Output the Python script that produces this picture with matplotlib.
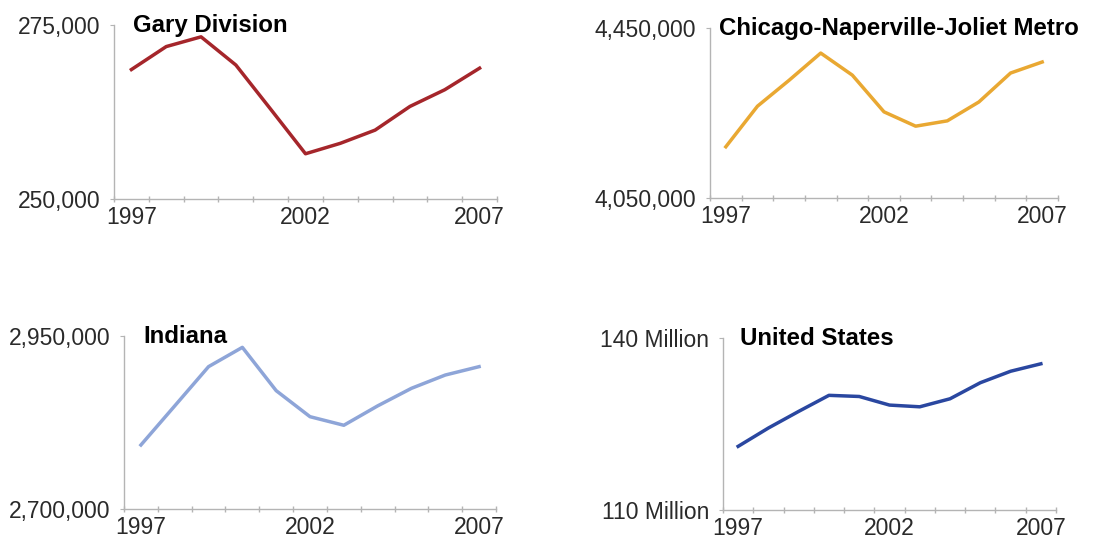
import matplotlib
matplotlib.use('Agg')
import matplotlib.pyplot as plt
from matplotlib.ticker import FixedLocator, FixedFormatter
import matplotlib.transforms as mtransforms

plt.rcParams['font.family'] = ['Liberation Sans', 'DejaVu Sans']

# Data
years = list(range(1997, 2008))
year_labels = ['1997', '2002', '2007']

gary = [268600, 271900, 273300, 269250, 262900, 256500, 258000, 259900, 263300, 265700, 268800]
chicago = [4170500, 4266000, 4327000, 4391000, 4339000, 4252700, 4219000, 4231500, 4276000, 4344000, 4370000]
indiana = [2792500, 2849000, 2905700, 2933600, 2871000, 2833400, 2821000, 2849000, 2874400, 2893600, 2905700]
us = [121.1, 124.3, 127.2, 130.0, 129.8, 128.3, 128.0, 129.4, 132.2, 134.2, 135.5]  # millions

titles = ['Gary Division', 'Chicago-Naperville-Joliet Metro', 'Indiana', 'United States']
series = [gary, chicago, indiana, us]
y_limits = [(250000, 275000), (4050000, 4450000), (2700000, 2950000), (110, 140)]
y_labels = [['250,000', '275,000'], ['4,050,000', '4,450,000'],
            ['2,700,000', '2,950,000'], ['110 Million', '140 Million']]
colors = ['#a5262b', '#e9a832', '#8ea5d8', '#2a47a0']

# axes boxes in pixels: left, top, right, bottom
W, H = 1114, 542
boxes = [(114, 25, 497, 199), (710, 28, 1058, 198),
         (124, 336, 496, 509), (723, 338, 1056, 510)]
title_x = [0.05, 0.026, 0.051, 0.051]

fig = plt.figure(figsize=(W / 100, H / 100), dpi=100)

for i in range(4):
    l, t, r, b = boxes[i]
    ax = fig.add_axes([l / W, 1 - b / H, (r - l) / W, (b - t) / H])
    x = list(range(len(years)))
    ax.plot(x, series[i], color=colors[i], lw=2.5, solid_joinstyle='round')
    ax.set_xlim(-0.5, len(years) - 0.5)
    ax.set_ylim(*y_limits[i])

    for s in ['top', 'right']:
        ax.spines[s].set_visible(False)
    for s in ['left', 'bottom']:
        ax.spines[s].set_color('#b4b4b4')
        ax.spines[s].set_linewidth(1.0)

    # category axis: small ticks at boundaries, labels at centers
    ax.xaxis.set_major_locator(FixedLocator([0, 5, 10]))
    ax.xaxis.set_major_formatter(FixedFormatter(year_labels))
    ax.xaxis.set_minor_locator(FixedLocator([k - 0.5 for k in range(len(years) + 1)]))
    ax.tick_params(axis='x', which='major', length=0, pad=5, labelsize=16.5, labelcolor='#2a2a2a')
    ax.tick_params(axis='x', which='minor', length=4, direction='inout', color='#b4b4b4', width=1)

    ax.set_yticks(list(y_limits[i]))
    ax.set_yticklabels(y_labels[i])
    ax.tick_params(axis='y', length=3, direction='out', color='#b4b4b4', pad=7,
                   labelsize=16.5, labelcolor='#2a2a2a')

    trans = mtransforms.offset_copy(ax.transAxes, fig=fig, y=-5, units='points')
    ax.text(title_x[i], 1.0, titles[i], transform=trans, fontsize=17.3,
            fontweight='bold', color='black', va='baseline', ha='left')

fig.savefig('out.png', dpi=100)
